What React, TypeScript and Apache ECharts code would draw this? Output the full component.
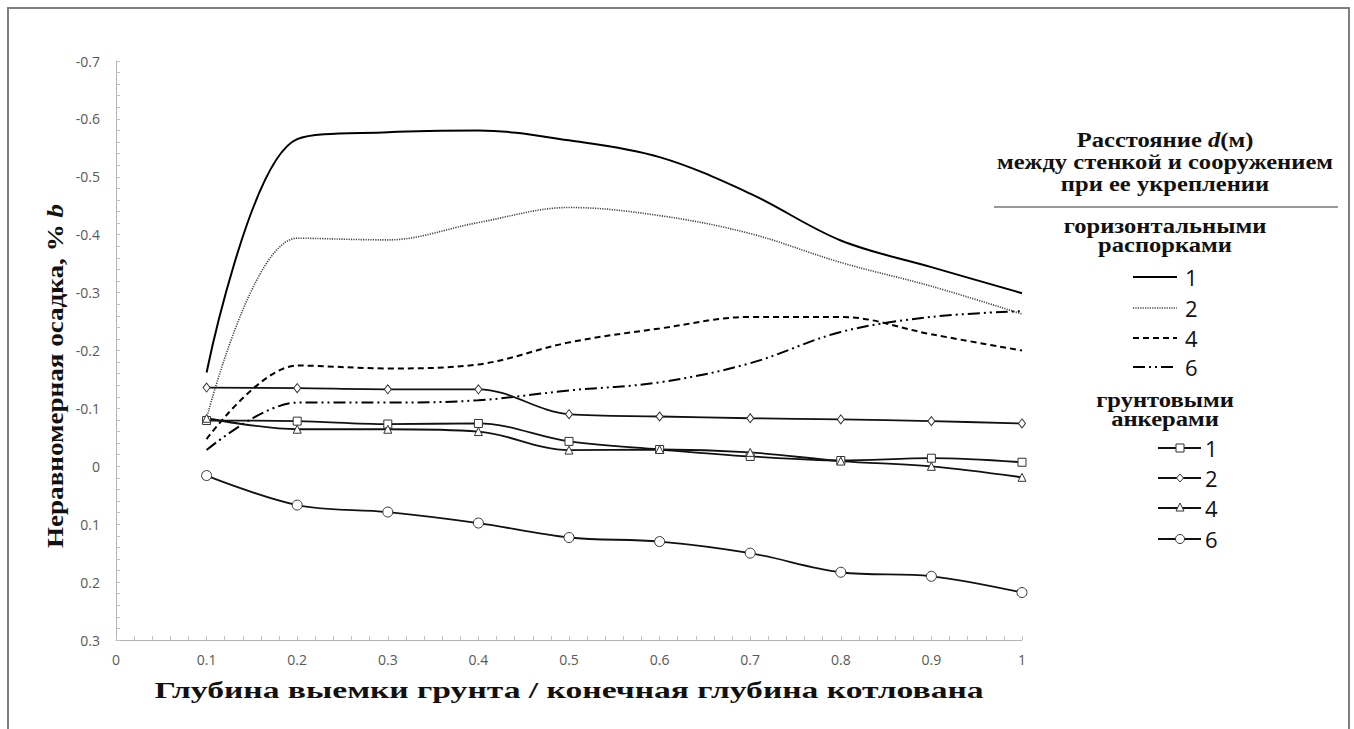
import React, { useEffect, useRef } from "react";
import * as echarts from "echarts";

const xValues = [0.1, 0.2, 0.3, 0.4, 0.5, 0.6, 0.7, 0.8, 0.9, 1.0];
const strut1 = [-0.162, -0.565, -0.577, -0.58, -0.563, -0.534, -0.471, -0.39, -0.344, -0.299];
const strut2 = [-0.083, -0.394, -0.391, -0.421, -0.447, -0.433, -0.402, -0.352, -0.311, -0.263];
const strut4 = [-0.047, -0.174, -0.169, -0.176, -0.214, -0.238, -0.258, -0.258, -0.228, -0.2];
const strut6 = [-0.028, -0.11, -0.11, -0.114, -0.131, -0.145, -0.178, -0.232, -0.258, -0.268];
const anchor1 = [-0.079, -0.078, -0.073, -0.074, -0.043, -0.029, -0.017, -0.01, -0.014, -0.007];
const anchor2 = [-0.136, -0.135, -0.133, -0.133, -0.09, -0.086, -0.083, -0.081, -0.078, -0.074];
const anchor4 = [-0.083, -0.064, -0.064, -0.06, -0.028, -0.029, -0.024, -0.009, 0.0, 0.019];
const anchor6 = [0.016, 0.067, 0.079, 0.098, 0.123, 0.13, 0.15, 0.183, 0.19, 0.218];

const strutNames = ["1", "2", "4", "6"];
const anchorNames = ["1", "2", "4", "6"];

const SERIF = "'Liberation Serif', 'DejaVu Serif', serif";
const SANS = "'Open Sans', 'Noto Sans', sans-serif";

const strutStyles = [
  { width: 2, type: "solid" as any, color: "#000" },
  { width: 1.6, type: [1.2, 1.2] as any, color: "#444" },
  { width: 2, type: [6, 4] as any, color: "#000" },
  { width: 2, type: [12, 4, 2, 4, 2, 4] as any, color: "#000" },
];
const anchorSymbols = ["rect", "diamond", "triangle", "circle"];
const anchorSizes: any[] = [8, [7, 9], 8, 10];

function fmt(v: number) {
  const r = Math.round(v * 10) / 10;
  if (Math.abs(r) < 1e-9) return "0";
  return String(r);
}

export default function App() {
  const ref = useRef<HTMLDivElement>(null);
  useEffect(() => {
    if (!ref.current) return;
    const chart = echarts.init(ref.current, null, { renderer: "svg" });
    const pairs = (ys: number[]) => xValues.map((x, i) => [x, ys[i]]);
    const struts = [strut1, strut2, strut4, strut6];
    const anchors = [anchor1, anchor2, anchor4, anchor6];

    const series: any[] = [];
    struts.forEach((d, i) => {
      series.push({
        type: "line",
        name: "strut " + strutNames[i],
        data: pairs(d),
        smooth: 0.35,
        symbol: "none",
        lineStyle: strutStyles[i],
        z: 2,
      });
    });
    anchors.forEach((d, i) => {
      series.push({
        type: "line",
        name: "anchor " + anchorNames[i],
        data: pairs(d),
        smooth: 0.35,
        symbol: anchorSymbols[i],
        symbolSize: anchorSizes[i],
        showAllSymbol: true,
        lineStyle: { width: 1.8, color: "#111" },
        itemStyle: { color: "#fff", borderColor: "#333", borderWidth: 1 },
        z: 3,
      });
    });

    const cx = 1165;
    const LS = 1.17;
    const g: any[] = [];
    const headerText = (text: string, y: number, lh: number) => ({
      type: "text",
      x: cx,
      y,
      scaleX: LS,
      style: {
        text,
        fontFamily: SERIF,
        fontWeight: "bold",
        fontSize: 21,
        lineHeight: lh,
        fill: "#111",
        align: "center",
        verticalAlign: "top",
        rich: {
          i: { fontFamily: SERIF, fontWeight: "bold", fontStyle: "italic", fontSize: 21, lineHeight: lh, fill: "#111" },
        },
      },
    });
    g.push(headerText("Расстояние {i|d}(м)\nмежду стенкой и сооружением\nпри ее укреплении", 129, 22));
    g.push({
      type: "line",
      shape: { x1: 994, y1: 207, x2: 1338, y2: 207 },
      style: { stroke: "#333", lineWidth: 1.2 },
    });
    g.push(headerText("горизонтальными\nраспорками", 217, 19));
    const strutYs = [277, 308, 338, 367];
    strutYs.forEach((y, i) => {
      const st = strutStyles[i];
      g.push({
        type: "line",
        shape: { x1: 1133, y1: y, x2: 1177, y2: y },
        style: {
          stroke: st.color,
          lineWidth: st.width,
          lineDash: Array.isArray(st.type) ? st.type : null,
        },
      });
      g.push({
        type: "text",
        x: 1185,
        y,
        style: {
          text: strutNames[i],
          fontFamily: SANS,
          fontSize: 22,
          fill: "#111",
          align: "left",
          verticalAlign: "middle",
        },
      });
    });
    g.push(headerText("грунтовыми\nанкерами", 391, 19));
    const anchorYs = [448, 478, 508, 539];
    anchorYs.forEach((y, i) => {
      g.push({
        type: "line",
        shape: { x1: 1158, y1: y, x2: 1201, y2: y },
        style: { stroke: "#111", lineWidth: 1.8 },
      });
      const mx = 1180;
      let m: any;
      const ms = { fill: "#fff", stroke: "#333", lineWidth: 1 };
      if (i === 0) m = { type: "rect", shape: { x: mx - 4, y: y - 4, width: 8, height: 8 }, style: ms };
      else if (i === 1) m = { type: "polygon", shape: { points: [[mx, y - 4], [mx + 3.5, y], [mx, y + 4], [mx - 3.5, y]] }, style: ms };
      else if (i === 2) m = { type: "polygon", shape: { points: [[mx, y - 5], [mx + 4, y + 3], [mx - 4, y + 3]] }, style: ms };
      else m = { type: "circle", shape: { cx: mx, cy: y, r: 4.5 }, style: ms };
      g.push(m);
      g.push({
        type: "text",
        x: 1205,
        y,
        style: {
          text: anchorNames[i],
          fontFamily: SANS,
          fontSize: 22,
          fill: "#111",
          align: "left",
          verticalAlign: "middle",
        },
      });
    });

    // axis titles (stretched like the reference)
    g.push({
      type: "text",
      x: 569,
      y: 690,
      scaleX: 1.4,
      style: {
        text: "Глубина выемки грунта / конечная глубина котлована",
        fontFamily: SERIF,
        fontWeight: "bold",
        fontSize: 24,
        fill: "#111",
        align: "center",
        verticalAlign: "middle",
      },
    });
    g.push({
      type: "text",
      x: 55,
      y: 376,
      rotation: Math.PI / 2,
      scaleX: 1.13,
      style: {
        text: "Неравномерная осадка, % {i|b}",
        fontFamily: SERIF,
        fontWeight: "bold",
        fontSize: 24,
        fill: "#111",
        align: "center",
        verticalAlign: "middle",
        rich: {
          i: { fontFamily: SERIF, fontWeight: "bold", fontStyle: "italic", fontSize: 24, fill: "#111" },
        },
      },
    });

    const axisCommon = {
      axisLine: { show: true, onZero: false, lineStyle: { color: "#b4b4b4", width: 1 } },
      axisTick: { show: true, inside: true, length: 4, lineStyle: { color: "#c0c0c0" } },
      minorTick: { show: true, splitNumber: 5, length: 4, lineStyle: { color: "#c0c0c0" } },
      splitLine: { show: false },
    };

    chart.setOption({
      animation: false,
      backgroundColor: "transparent",
      grid: { left: 116, right: 332, top: 61, bottom: 89, containLabel: false },
      xAxis: {
        type: "value",
        min: 0,
        max: 1,
        interval: 0.1,
        ...axisCommon,
        axisLabel: { fontFamily: SANS, fontSize: 14, color: "#595959", margin: 12, formatter: (v: number) => fmt(v) },
      },
      yAxis: {
        type: "value",
        inverse: true,
        min: -0.7,
        max: 0.3,
        interval: 0.1,
        ...axisCommon,
        axisLabel: { fontFamily: SANS, fontSize: 14, color: "#595959", margin: 16, formatter: (v: number) => fmt(v) },
      },
      graphic: g,
      series,
    });
    return () => chart.dispose();
  }, []);

  return (
    <div style={{ position: "fixed", left: 0, top: 0, width: 1354, height: 729, background: "#fff", overflow: "hidden" }}>
      <div
        style={{
          position: "absolute",
          left: 7,
          top: 7,
          width: 1343,
          height: 800,
          border: "2px solid #7f7f7f",
          boxSizing: "border-box",
        }}
      />
      <div ref={ref} style={{ position: "absolute", left: 0, top: 0, width: 1354, height: 729 }} />
    </div>
  );
}
